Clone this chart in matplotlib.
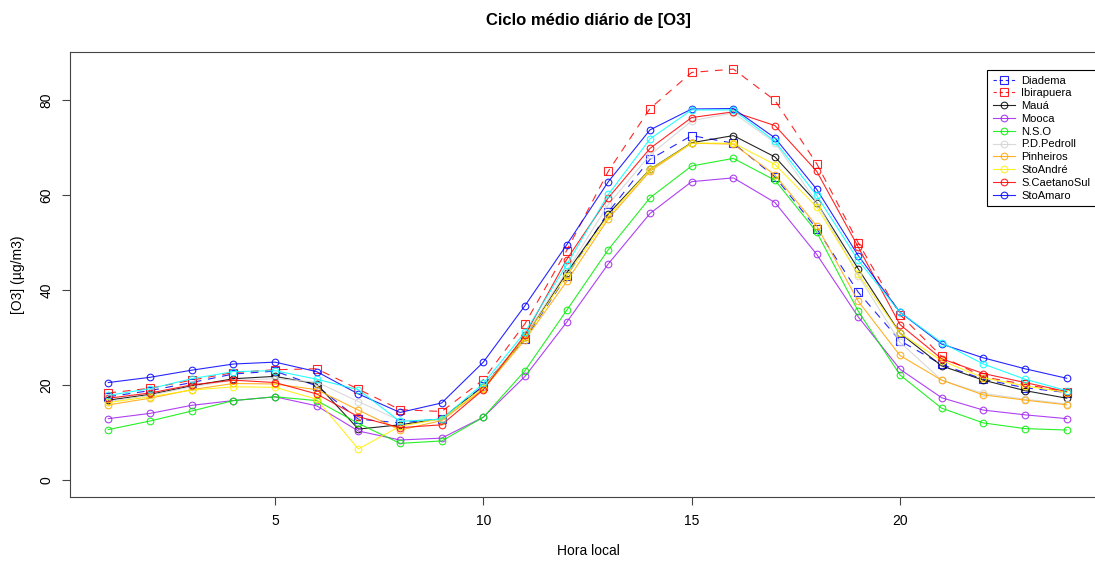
import matplotlib
matplotlib.use("Agg")
import matplotlib.pyplot as plt

plt.rcParams['font.family'] = ['Liberation Sans', 'DejaVu Sans']

hours = list(range(1, 25))

diadema = [17.5, 18.8, 20.5, 22.3, 22.9, 19.8, 12.8, 12.0, 12.9, 19.8, 29.7, 42.9,
           56.4, 67.5, 72.5, 70.9, 63.8, 52.9, 39.5, 29.3, 24.3, 21.2, 19.4, 18.4]
ibirapuera = [18.3, 19.3, 21.0, 22.6, 23.2, 23.4, 19.1, 14.8, 14.4, 21.1, 32.9, 48.3,
              65.0, 78.2, 85.8, 86.5, 79.9, 66.6, 49.9, 34.8, 26.0, 21.7, 20.1, 18.5]
maua = [16.8, 18.0, 19.8, 21.3, 21.8, 20.2, 10.7, 11.6, 12.9, 19.6, 30.0, 43.6,
        56.0, 65.4, 71.0, 72.5, 68.0, 58.4, 44.4, 30.9, 24.0, 21.0, 18.8, 17.2]
mooca = [12.9, 14.0, 15.7, 16.7, 17.5, 15.6, 10.3, 8.4, 8.8, 13.2, 21.8, 33.2,
         45.5, 56.1, 62.8, 63.6, 58.4, 47.5, 34.3, 23.3, 17.3, 14.7, 13.7, 12.9]
nso = [10.6, 12.4, 14.5, 16.7, 17.5, 16.7, 11.9, 7.7, 8.2, 13.2, 23.0, 35.7,
       48.5, 59.4, 66.1, 67.7, 63.1, 52.2, 35.5, 22.1, 15.1, 12.0, 10.8, 10.5]
pedroll = [16.5, 17.8, 19.6, 21.0, 21.3, 20.6, 16.5, 12.5, 12.6, 19.5, 30.3, 44.0,
           58.0, 68.4, 75.6, 77.3, 71.0, 58.5, 43.0, 29.0, 21.0, 18.2, 17.0, 16.0]
pinheiros = [15.8, 17.2, 19.0, 20.3, 20.2, 19.0, 14.7, 10.5, 12.5, 19.1, 29.5, 41.8,
             55.0, 65.0, 70.9, 70.7, 64.2, 53.5, 37.6, 26.2, 21.0, 17.9, 16.8, 15.8]
stoandre = [16.3, 17.5, 18.9, 19.6, 19.5, 17.0, 6.5, 11.3, 12.9, 19.3, 30.0, 43.0,
            55.5, 65.4, 70.9, 70.9, 66.4, 57.5, 43.3, 30.9, 25.1, 21.5, 19.8, 18.4]
scaetano = [17.2, 18.3, 20.0, 21.0, 20.5, 18.1, 13.3, 11.0, 11.6, 19.0, 30.5, 46.4,
            59.4, 69.8, 76.3, 77.5, 74.6, 65.0, 49.0, 32.7, 25.5, 22.4, 20.5, 18.6]
stoamaro = [20.5, 21.6, 23.1, 24.4, 24.8, 22.8, 18.1, 14.2, 16.2, 24.8, 36.7, 49.5,
            62.8, 73.7, 78.1, 78.2, 72.0, 61.2, 47.2, 35.3, 28.6, 25.7, 23.4, 21.4]
ciano = [17.8, 19.2, 21.3, 22.8, 23.0, 21.2, 19.0, 12.3, 12.8, 20.3, 31.1, 45.3,
         60.1, 71.8, 77.9, 77.9, 71.3, 59.9, 46.2, 35.3, 28.9, 24.4, 21.2, 18.8]

fig = plt.figure(figsize=(10.95, 5.61), dpi=100)
ax = fig.add_axes([70/1095, 64/561, 1035/1095, 445/561])

dash = (0, (7, 6))
series = [
    (diadema, 'Diadema', 'blue', dash, 's'),
    (ibirapuera, 'Ibirapuera', 'red', dash, 's'),
    (maua, 'Mauá', 'black', '-', 'o'),
    (mooca, 'Mooca', '#A020F0', '-', 'o'),
    (nso, 'N.S.O', '#00EE00', '-', 'o'),
    (pedroll, 'P.D.Pedroll', '#D3D3D3', '-', 'o'),
    (pinheiros, 'Pinheiros', 'orange', '-', 'o'),
    (stoandre, 'StoAndré', '#FFEE00', '-', 'o'),
    (scaetano, 'S.CaetanoSul', 'red', '-', 'o'),
    (stoamaro, 'StoAmaro', 'blue', '-', 'o'),
]
handles = []
for vals, name, col, ls, mk in series:
    h, = ax.plot(hours, vals, color=col, ls=ls, lw=0.8, marker=mk,
                 markersize=4.8 if mk == 'o' else 5.3, markerfacecolor='none',
                 markeredgewidth=0.8, alpha=0.85, label=name)
    handles.append(h)
# cyan series has no legend entry in the original
ax.plot(hours, ciano, color='cyan', lw=0.8, marker='o', markersize=4.8,
        markerfacecolor='none', markeredgewidth=0.8, alpha=0.85)

ax.set_xlim(0.08, 24.92)
ax.set_ylim(-3.6, 90.1)
ax.set_xticks([5, 10, 15, 20])
ax.set_yticks([0, 20, 40, 60, 80])
ax.tick_params(direction='out', length=6, width=0.8, color='#444444',
               labelsize=10, pad=6)
for lab in ax.get_yticklabels():
    lab.set_rotation(90)
    lab.set_va('center')
for s in ax.spines.values():
    s.set_color('#444444')
    s.set_linewidth(0.8)

fig.text(588/1095, 1 - 20/561, 'Ciclo médio diário de [O3]', ha='center',
         va='center', fontsize=12, fontweight='bold')
fig.text(588/1095, 1 - 551/561, 'Hora local', ha='center', va='center', fontsize=10)
fig.text(18/1095, 1 - 275/561, '[O3] (µg/m3)', ha='center', va='center',
         fontsize=10, rotation=90)

leg = fig.legend(handles=handles, loc='upper left',
                 bbox_to_anchor=(987/1095, 1 - 70/561), fontsize=8,
                 frameon=True, fancybox=False, framealpha=1, edgecolor='black',
                 handlelength=2.0, labelspacing=0.25, borderpad=0.5,
                 handletextpad=0.6, borderaxespad=0)
leg.get_frame().set_linewidth(0.8)
for ln in leg.get_lines()[:2]:
    ln.set_linestyle((0, (3, 2.5)))

fig.savefig('out.png', dpi=100)
